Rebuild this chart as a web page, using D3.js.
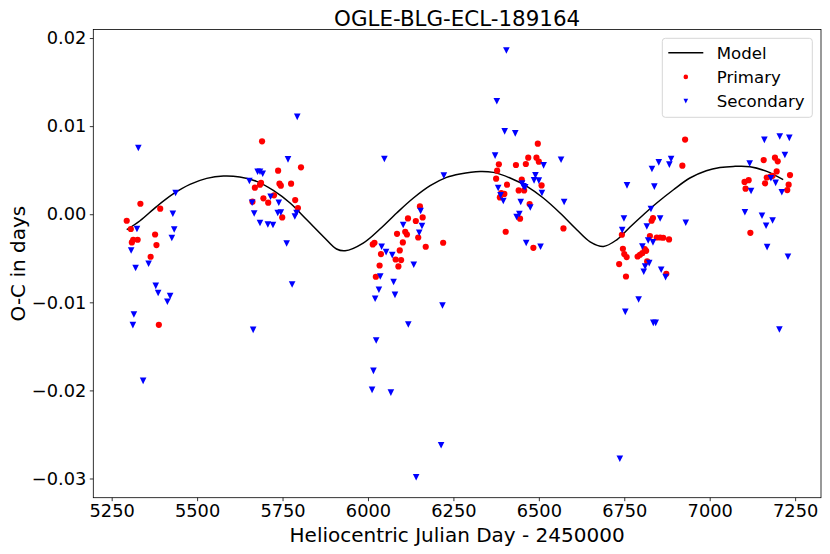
<!DOCTYPE html>
<html>
<head>
<meta charset="utf-8">
<script src="https://cdn.jsdelivr.net/npm/d3@7"></script>
<style>
  html, body { margin: 0; padding: 0; background: #fff; }
  svg { display: block; font-family: "DejaVu Sans", sans-serif; }
</style>
</head>
<body>
<svg id="chart" width="830" height="554"></svg>
<script>
// axis limits and ticks (HJD - 2450000, O-C in days)
const xLimits = [5196.2, 7325.7];
const yLimits = [-0.03218, 0.02097];
const xTicks = [5250, 5500, 5750, 6000, 6250, 6500, 6750, 7000, 7250];
const yTicks = [-0.03, -0.02, -0.01, 0.00, 0.01, 0.02];

// model curve
const modelX = [5294, 5333, 5382, 5430, 5479, 5528, 5577, 5625, 5674, 5723, 5772, 5821, 5869, 5908, 5933,
  5986, 6035, 6084, 6133, 6182, 6230, 6269, 6328, 6367, 6416, 6465, 6513, 6562, 6611, 6650, 6689,
  6728, 6767, 6806, 6845, 6894, 6942, 6990, 7030, 7069, 7118, 7167, 7215];
const modelY = [-0.00176, -0.00074, 0.00089, 0.00230, 0.00339, 0.00407, 0.00434, 0.00423, 0.00373, 0.00270,
  0.00127, -0.00063, -0.00252, -0.00395, -0.00415, -0.00327, -0.00168, 0.00014, 0.00184, 0.00324, 0.00418,
  0.00457, 0.00486, 0.00475, 0.00411, 0.00316, 0.00184, 0.00014, -0.00176, -0.00313, -0.00366, -0.00290,
  -0.00145, -0.00006, 0.00127, 0.00278, 0.00411, 0.00494, 0.00530, 0.00543, 0.00540, 0.00486, 0.00392];

// primary minima
const primaryX = [5294, 5306, 5313, 5309, 5326, 5334, 5392, 5377, 5381, 5364, 5388,
  5690, 5804, 5737, 5741, 5745, 5775, 5669, 5684, 5687, 5725, 5694, 5708, 5662, 5787, 5795, 5749,
  6152, 6160, 6117, 6140, 6109, 6114, 6085, 6147, 6220, 6169, 6102, 6014, 6019, 6093, 6038, 6081, 6097, 6034, 6089, 6023,
  6497, 6469, 6493, 6500, 6383, 6433, 6462, 6378, 6375, 6450, 6407, 6508, 6441, 6457, 6390, 6399, 6386, 6473, 6445, 6572, 6403, 6484,
  6928, 6920, 6834, 6830, 6743, 6825, 6845, 6855, 6864, 6881, 6746, 6810, 6814, 6750, 6757, 6803, 6796, 6789, 6817, 6735, 6873, 6755,
  7158, 7191, 7199, 7196, 7235, 7167, 7178, 7184, 7102, 7114, 7162, 7231, 7227, 7105, 7119];
const primaryY = [-0.00074, -0.00168, -0.00290, -0.00320, -0.00290, 0.00119, 0.00063, -0.00230, -0.00350, -0.00483, -0.01256,
  0.00827, 0.00532, 0.00494, 0.00347, 0.00324, 0.00347, 0.00301, 0.00335, 0.00355, 0.00214, 0.00180, 0.00131, 0.00142, 0.00161, 0.00070, -0.00036,
  0.00089, -0.00036, -0.00048, -0.00077, -0.00199, -0.00230, -0.00222, -0.00264, -0.00324, -0.00369, -0.00320, -0.00343, -0.00324, -0.00411, -0.00452, -0.00514, -0.00520, -0.00582, -0.00593, -0.00710,
  0.00801, 0.00642, 0.00642, 0.00597, 0.00566, 0.00559, 0.00570, 0.00494, 0.00403, 0.00392, 0.00335, 0.00327, 0.00270, 0.00270, 0.00241, 0.00230, 0.00191, 0.00116, -0.00051, -0.00161, -0.00199, -0.00381,
  0.00847, 0.00551, -0.00043, -0.00074, -0.00233, -0.00248, -0.00264, -0.00264, -0.00267, -0.00286, -0.00392, -0.00395, -0.00415, -0.00452, -0.00486, -0.00441, -0.00460, -0.00480, -0.00536, -0.00566, -0.00676, -0.00707,
  0.00615, 0.00642, 0.00600, 0.00486, 0.00444, 0.00417, 0.00428, 0.00436, 0.00367, 0.00386, 0.00351, 0.00335, 0.00274, 0.00290, -0.00211];

// secondary minima
const secondaryX = [5328, 5324, 5307, 5320, 5358, 5437, 5429, 5433, 5426, 5379, 5386, 5421, 5413, 5315, 5312, 5342,
  5793, 5766, 5677, 5684, 5692, 5653, 5715, 5661, 5739, 5667, 5736, 5745, 5684, 5707, 5722, 5786, 5791, 5762, 5778, 5664,
  6048, 6222, 6154, 6103, 6158, 6150, 6040, 6053, 6071, 6134, 6036, 6075, 6032, 6079, 6021, 6218, 6118, 6024, 6016, 6012, 6067, 6214, 6141,
  6405, 6377, 6400, 6431, 6372, 6565, 6514, 6490, 6486, 6500, 6451, 6455, 6460, 6381, 6509, 6388, 6396, 6447, 6574, 6475, 6443, 6435, 6463, 6505,
  6887, 6882, 6851, 6831, 6758, 6838, 6828, 6749, 6855, 6930, 6744, 6816, 6820, 6834, 6803, 6823, 6811, 6807, 6858, 6871, 6792, 6753, 6835, 6842, 6737,
  7160, 7205, 7233, 7220, 7117, 7179, 7193, 7121, 7211, 7103, 7153, 7184, 7165, 7168, 7229, 7204];
const secondaryY = [0.00752, -0.00168, -0.00411, -0.00611, -0.00563, 0.00241, 0.00006, -0.00173, -0.00270, -0.00813, -0.00895, -0.00930, -0.00994, -0.01139, -0.01259, -0.01892,
  0.01105, 0.00623, 0.00483, 0.00483, 0.00460, 0.00377, 0.00199, 0.00131, 0.00131, 0.00009, 0.00014, 0.00020, -0.00100, -0.00116, -0.00123, -0.00025, 0.00014, -0.00332, -0.00798, -0.01313,
  0.00627, 0.00438, 0.00036, -0.00123, -0.00134, -0.00210, -0.00369, -0.00430, -0.00464, -0.00574, -0.00707, -0.00770, -0.00858, -0.00915, -0.00960, -0.01036, -0.01252, -0.01434, -0.01778, -0.01994, -0.02025, -0.02623, -0.02986,
  0.01858, 0.01282, 0.00941, 0.00918, 0.00665, 0.00619, 0.00555, 0.00441, 0.00384, 0.00381, 0.00347, 0.00316, 0.00305, 0.00298, 0.00241, 0.00214, 0.00150, 0.00139, 0.00139, 0.00077, 0.00002, -0.00032, -0.00327, -0.00369,
  0.00627, 0.00563, 0.00589, 0.00514, 0.00327, 0.00313, 0.00059, -0.00048, -0.00048, -0.00097, -0.00180, -0.00139, -0.00298, -0.00320, -0.00366, -0.00555, -0.00593, -0.00653, -0.00631, -0.00714, -0.00968, -0.01108, -0.01233, -0.01233, -0.02775,
  0.00844, 0.00883, 0.00867, 0.00673, 0.00576, 0.00409, 0.00356, 0.00263, 0.00250, 0.00022, -0.00017, -0.00072, -0.00130, -0.00374, -0.00483, -0.01309];

const width = 830, height = 554;
const margin = {top: 29.5, right: 9, bottom: 56.3, left: 93.3};

const svg = d3.select("#chart");

const x = d3.scaleLinear().domain(xLimits).range([margin.left, width - margin.right]);
const y = d3.scaleLinear().domain(yLimits).range([height - margin.bottom, margin.top]);

const model = modelX.map((d, i) => ({x: d, y: modelY[i]}));
const primary = primaryX.map((d, i) => ({x: d, y: primaryY[i]}));
const secondary = secondaryX.map((d, i) => ({x: d, y: secondaryY[i]}));

// downward triangle like matplotlib "v"
const triDown = s => `M${-s / 2},${-s / 2}L${s / 2},${-s / 2}L0,${s / 2}Z`;

const plot = svg.append("g");

plot.append("path")
    .datum(model)
    .attr("fill", "none")
    .attr("stroke", "#000")
    .attr("stroke-width", 1.5)
    .attr("d", d3.line().x(d => x(d.x)).y(d => y(d.y)).curve(d3.curveCatmullRom.alpha(0.5)));

plot.append("g")
    .attr("fill", "#ff0000")
    .selectAll("circle")
    .data(primary)
    .join("circle")
    .attr("cx", d => x(d.x))
    .attr("cy", d => y(d.y))
    .attr("r", 3.1);

plot.append("g")
    .attr("fill", "#0000ff")
    .selectAll("path")
    .data(secondary)
    .join("path")
    .attr("transform", d => `translate(${x(d.x)},${y(d.y)})`)
    .attr("d", triDown(6.6));

// axes
const xAxis = svg.append("g")
    .attr("transform", `translate(0,${height - margin.bottom})`)
    .call(d3.axisBottom(x).tickValues(xTicks).tickFormat(d3.format("d")).tickSize(3.5).tickPadding(3.5));
const yAxis = svg.append("g")
    .attr("transform", `translate(${margin.left},0)`)
    .call(d3.axisLeft(y).tickValues(yTicks).tickFormat(d3.format(".2f")).tickSize(3.5).tickPadding(3.5));

[xAxis, yAxis].forEach(a => {
    a.select(".domain").remove();
    a.selectAll("line").attr("stroke", "#000").attr("stroke-width", 0.8);
    a.selectAll("text").attr("font-family", "DejaVu Sans").attr("font-size", 17.8).attr("fill", "#000");
});

// frame
svg.append("rect")
    .attr("x", margin.left)
    .attr("y", margin.top)
    .attr("width", width - margin.left - margin.right)
    .attr("height", height - margin.top - margin.bottom)
    .attr("fill", "none")
    .attr("stroke", "#000")
    .attr("stroke-width", 0.8);

// title and labels
svg.append("text")
    .attr("x", (margin.left + width - margin.right) / 2)
    .attr("y", 26)
    .attr("text-anchor", "middle")
    .attr("font-size", 21.4)
    .text("OGLE-BLG-ECL-189164");

svg.append("text")
    .attr("x", (margin.left + width - margin.right) / 2)
    .attr("y", 542)
    .attr("text-anchor", "middle")
    .attr("font-size", 20)
    .text("Heliocentric Julian Day - 2450000");

svg.append("text")
    .attr("transform", `translate(25,${(margin.top + height - margin.bottom) / 2}) rotate(-90)`)
    .attr("text-anchor", "middle")
    .attr("font-size", 20)
    .text("O-C in days");

// legend
const legend = svg.append("g").attr("font-size", 16.6);
legend.append("rect")
    .attr("x", 662.3).attr("y", 38.3)
    .attr("width", 150).attr("height", 79)
    .attr("rx", 3)
    .attr("fill", "#fff").attr("fill-opacity", 0.8)
    .attr("stroke", "#d6d6d6").attr("stroke-width", 1);

const items = [
    {label: "Model", kind: "line"},
    {label: "Primary", kind: "circle"},
    {label: "Secondary", kind: "tri"}
];
const row = legend.selectAll("g.item")
    .data(items)
    .join("g")
    .attr("class", "item")
    .attr("transform", (d, i) => `translate(668.3,${52.7 + i * 24.2})`);

row.each(function (d) {
    const g = d3.select(this);
    if (d.kind === "line") {
        g.append("line").attr("x1", 0).attr("x2", 35).attr("stroke", "#000").attr("stroke-width", 1.5);
    } else if (d.kind === "circle") {
        g.append("circle").attr("cx", 17.5).attr("r", 2.3).attr("fill", "#ff0000");
    } else {
        g.append("path").attr("transform", "translate(17.5,0)").attr("d", triDown(4.6)).attr("fill", "#0000ff");
    }
    g.append("text").attr("x", 48.4).attr("dy", "0.35em").text(d.label);
});
</script>
</body>
</html>
